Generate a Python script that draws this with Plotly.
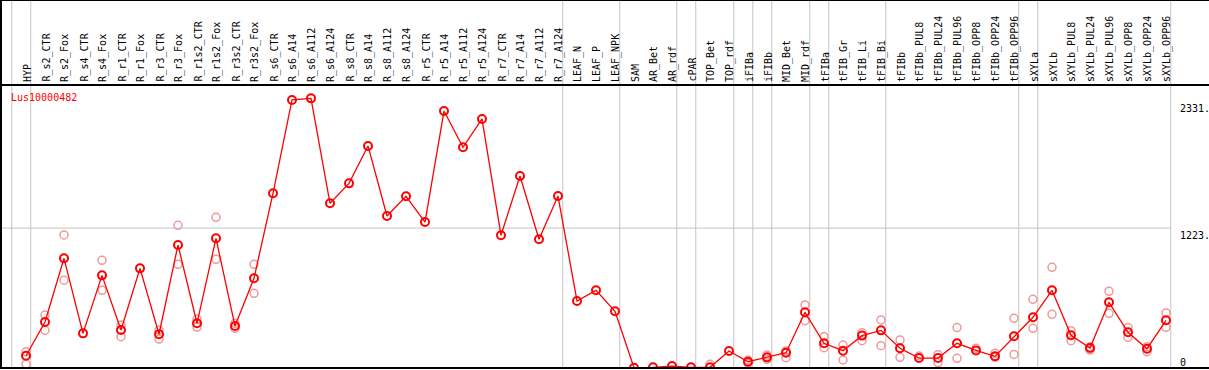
import plotly.graph_objects as go

categories = ["HYP", "R_s2_CTR", "R_s2_Fox", "R_s4_CTR", "R_s4_Fox", "R_r1_CTR", "R_r1_Fox",
              "R_r3_CTR", "R_r3_Fox", "R_r1s2_CTR", "R_r1s2_Fox", "R_r3s2_CTR", "R_r3s2_Fox",
              "R_s6_CTR", "R_s6_A14", "R_s6_A112", "R_s6_A124", "R_s8_CTR", "R_s8_A14",
              "R_s8_A112", "R_s8_A124", "R_r5_CTR", "R_r5_A14", "R_r5_A112", "R_r5_A124",
              "R_r7_CTR", "R_r7_A14", "R_r7_A112", "R_r7_A124", "LEAF_N", "LEAF_P", "LEAF_NPK",
              "SAM", "AR_Bet", "AR_rdf", "cPAR", "TOP_Bet", "TOP_rdf", "iFIBa", "iFIBb",
              "MID_Bet", "MID_rdf", "tFIBa", "tFIB_Gr", "tFIB_Li", "tFIB_Bi", "tFIBb",
              "tFIBb_PUL8", "tFIBb_PUL24", "tFIBb_PUL96", "tFIBb_OPP8", "tFIBb_OPP24",
              "tFIBb_OPP96", "sXYLa", "sXYLb", "sXYLb_PUL8", "sXYLb_PUL24", "sXYLb_PUL96",
              "sXYLb_OPP8", "sXYLb_OPP24", "sXYLb_OPP96"]

mean_values = [107, 402, 959, 303, 810, 332, 871, 295, 1075, 391, 1134, 367, 784,
               1527, 2343, 2357, 1440, 1614, 1941, 1329, 1501, 1276, 2246, 1929, 2177,
               1160, 1678, 1125, 1503, 586, 679, 496,
               2, 6, 17, 6, 6, 149, 55, 93, 134, 487, 216, 151, 283, 329, 172,
               87, 87, 216, 154, 102, 277, 443, 679, 286, 175, 574, 312, 169, 417]

rep_high = [142, 463, 1163, None, 941, 376, None, 332, 1247, 428, 1317, 391, 906,
            None, None, None, None, None, None, None, None, None, None, None, None,
            None, None, None, None, None, None, None,
            None, None, None, None, 32, None, 70, 113, 149, 551, 274, 201, 309, 420, 245,
            105, 116, 353, 172, 128, 434, 600, 880, 326, 186, 670, 353, 186, 481]

rep_low = [35, 330, 767, None, 679, 274, None, 253, 906, 358, 950, 347, 653,
           None, None, None, None, None, None, None, None, None, None, None, None,
           None, None, None, None, None, None, None,
           None, None, None, None, None, None, 41, 76, 90, 414, 178, 70, 239, 195, 93,
           None, 47, 85, None, 93, 119, 347, 469, 239, 157, 478, 268, 143, 356]

group_ends = [-1, 0, 28, 31, 34, 35, 37, 38, 39, 41, 42, 45, 52, 53, 60]
gene_name = "Lus10000482"
y_tick_values = [2331, 1223]

W, H = 1209, 370
ML, MR, MT, MB = 1, 1, 85, 2
PW = W - ML - MR
PH = H - MT - MB
px_per_cat = 19.0
x0 = -(26 - ML) / px_per_cat
x1 = x0 + PW / px_per_cat
px_per_unit = 0.1144
ytop = PH / px_per_unit

idx = list(range(len(categories)))

fig = go.Figure()
fig.add_trace(go.Scatter(
    x=idx + idx, y=rep_high + rep_low, mode="markers",
    marker=dict(symbol="circle-open", size=8, color="#ee9a9a", line=dict(width=1.5, color="#ee9a9a")),
    hoverinfo="skip", showlegend=False, cliponaxis=True))
fig.add_trace(go.Scatter(
    x=idx, y=mean_values, mode="lines+markers",
    line=dict(color="#ff0000", width=1.3),
    marker=dict(symbol="circle-open", size=8, color="#ff0000", line=dict(width=2, color="#ff0000")),
    showlegend=False, cliponaxis=True))

shapes = []
shapes.append(dict(type="line", xref="x", yref="y", x0=x0, x1=60.25, y0=1223, y1=1223,
                   line=dict(color="#c4c4c4", width=1), layer="below"))
top_paper = (H - MB) / PH
for g in group_ends:
    shapes.append(dict(type="line", xref="x", yref="paper", x0=g + 0.25, x1=g + 0.25,
                       y0=0, y1=top_paper, line=dict(color="#c4c4c4", width=1), layer="below"))
shapes.append(dict(type="line", xref="paper", yref="paper", x0=-ML / PW, x1=1 + MR / PW, y0=1, y1=1,
                   line=dict(color="black", width=2)))
shapes.append(dict(type="line", xref="paper", yref="paper", x0=-ML / PW, x1=1 + MR / PW, y0=0, y1=0,
                   line=dict(color="black", width=2)))
shapes.append(dict(type="line", xref="paper", yref="paper", x0=0, x1=0, y0=0, y1=top_paper,
                   line=dict(color="black", width=2)))
shapes.append(dict(type="line", xref="paper", yref="paper", x0=-ML / PW, x1=1 + MR / PW,
                   y0=top_paper - 0.5 / PH, y1=top_paper - 0.5 / PH,
                   line=dict(color="black", width=1)))

annotations = []
for i, c in enumerate(categories):
    annotations.append(dict(x=i, y=1, xref="x", yref="paper", text=c, showarrow=False,
                            textangle=-90, xanchor="center", yanchor="bottom", yshift=1, xshift=1,
                            font=dict(family="DejaVu Sans Mono", size=10, color="black")))
annotations.append(dict(x=(9 - ML) / PW, y=1, xref="paper", yref="paper", text=gene_name,
                        showarrow=False, xanchor="left", yanchor="top", yshift=-5,
                        font=dict(family="DejaVu Sans Mono", size=10, color="#ff0000")))
for v in y_tick_values:
    annotations.append(dict(x=(1178 - ML) / PW, y=v, xref="paper", yref="y", text=f"{v}.",
                            showarrow=False, xanchor="left", yanchor="top", yshift=0,
                            font=dict(family="DejaVu Sans Mono", size=10, color="black")))
annotations.append(dict(x=(1178 - ML) / PW, y=0, xref="paper", yref="paper", text="0",
                        showarrow=False, xanchor="left", yanchor="bottom", yshift=-2,
                        font=dict(family="DejaVu Sans Mono", size=10, color="black")))

fig.update_layout(
    width=W, height=H,
    margin=dict(l=ML, r=MR, t=MT, b=MB, pad=0),
    paper_bgcolor="white", plot_bgcolor="white",
    xaxis=dict(range=[x0, x1], showgrid=False, zeroline=False, showticklabels=False,
               ticks="", showline=False, fixedrange=True),
    yaxis=dict(range=[0, ytop], showgrid=False, zeroline=False, showticklabels=False,
               ticks="", showline=False, fixedrange=True),
    shapes=shapes, annotations=annotations, showlegend=False,
)

fig.write_html("out.html", config={"displayModeBar": False},
               post_script="document.body.style.margin='0';document.body.style.overflow='hidden';")
